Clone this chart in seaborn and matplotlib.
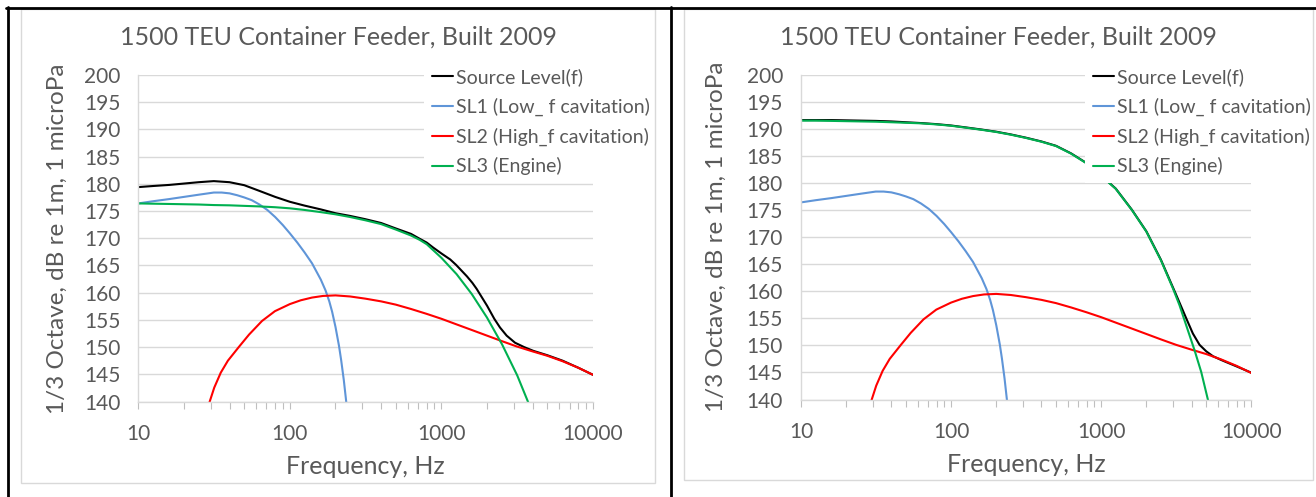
import numpy as np
import pandas as pd
import matplotlib
matplotlib.use("Agg")
import matplotlib.pyplot as plt
import seaborn as sns
from matplotlib.lines import Line2D
from matplotlib.patches import Rectangle
from matplotlib.ticker import LogLocator, FixedLocator, NullFormatter, FuncFormatter

# ---------------- data ----------------
title = "1500 TEU Container Feeder, Built 2009"
xlabel = "Frequency, Hz"
ylabel = "1/3 Octave, dB re 1m, 1 microPa"
series_names = ["Source Level(f)", "SL1 (Low_ f cavitation)",
                "SL2 (High_f cavitation)", "SL3 (Engine)"]

# left chart: total source level
sl_left_freq = [10, 12.5, 16, 20, 25, 31.5, 40, 50, 63, 80, 100, 125, 160,
                200, 250, 315, 400, 500, 630, 719, 800, 881, 1000, 1143, 1250,
                1473, 1600, 1707, 2000, 2232, 2434, 2694, 3059, 3510, 4046,
                5000, 6300, 8000, 10000]
sl_left = [179.4, 179.6, 179.8, 180.05, 180.3, 180.5, 180.3, 179.75, 178.7,
           177.6, 176.7, 176.0, 175.3, 174.6, 174.1, 173.5, 172.8, 171.8,
           170.8, 169.9, 169.2, 168.3, 167.2, 166.1, 165.1, 163.0, 161.8,
           160.7, 157.6, 155.2, 153.6, 152.1, 150.8, 150.0, 149.3, 148.5,
           147.5, 146.2, 144.9]
# left chart: engine
engine_left_freq = [10, 12.5, 16, 20, 25, 31.5, 40, 50, 63, 80, 100, 125, 160,
                    200, 250, 315, 400, 500, 630, 719, 800, 1000, 1259, 1585,
                    1995, 2512, 3162, 3656, 4000]
engine_left = [176.4, 176.35, 176.3, 176.25, 176.2, 176.1, 176.05, 175.95,
               175.85, 175.7, 175.5, 175.2, 174.8, 174.4, 173.9, 173.3, 172.6,
               171.6, 170.5, 169.7, 168.9, 166.4, 163.4, 159.75, 155.45,
               150.5, 144.8, 140.5, 137.8]

# right chart: total source level
sl_right_freq = [10, 12.5, 16, 20, 25, 31.5, 40, 50, 63, 80, 100, 125, 160,
                 200, 250, 315, 400, 500, 630, 800, 1000, 1250, 1600, 2000,
                 2500, 3150, 3684, 4078, 4519, 5008, 5549, 6300, 6814, 8000,
                 10000]
sl_right = [191.6, 191.6, 191.6, 191.55, 191.5, 191.45, 191.35, 191.2, 191.05,
            190.85, 190.6, 190.25, 189.85, 189.45, 188.95, 188.35, 187.65,
            186.85, 185.45, 183.65, 181.35, 178.95, 175.05, 171.05, 165.8,
            159.4, 155.0, 152.2, 150.1, 148.9, 148.0, 147.3, 146.9, 146.1,
            144.95]
# right chart: engine
engine_right_freq = [10, 12.5, 16, 20, 25, 31.5, 40, 50, 63, 80, 100, 125, 160,
                     200, 250, 315, 400, 500, 630, 800, 1000, 1250, 1600, 2000,
                     2500, 3007, 3325, 3684, 4187, 4637, 5136, 5600]
engine_right = [191.5, 191.5, 191.45, 191.4, 191.35, 191.3, 191.2, 191.1,
                191.0, 190.8, 190.55, 190.2, 189.8, 189.4, 188.9, 188.3, 187.6,
                186.8, 185.4, 183.6, 181.3, 178.9, 175.0, 171.0, 165.7, 160.5,
                157.4, 153.7, 149.1, 145.1, 140.0, 135.0]

# shared components (same in both charts)
lowf_freq = [10, 12.5, 16, 20, 25, 31.5, 35.5, 40, 45, 50, 56, 63, 71, 80, 90,
             100, 112, 125, 140, 160, 172, 182, 190, 200, 211, 218, 227, 235,
             245]
lowf_cav = [176.4, 176.8, 177.2, 177.6, 178.0, 178.4, 178.4, 178.25, 177.9,
            177.5, 177.0, 176.2, 175.2, 173.9, 172.4, 170.9, 169.2, 167.4,
            165.4, 162.4, 160.4, 158.4, 156.5, 153.7, 150.2, 147.6, 143.9,
            140.15, 134.9]
highf_freq = [25, 29.6, 31.7, 35, 39, 46, 53.8, 65.5, 79.7, 100, 118, 140,
              165.6, 200, 250, 315, 400, 500, 630, 800, 1000, 1250, 1600,
              2000, 2500, 3150, 4000, 5000, 6300, 8000, 10000]
highf_cav = [133.0, 140.0, 142.55, 145.3, 147.5, 150.0, 152.3, 154.8, 156.6,
             157.9, 158.6, 159.1, 159.4, 159.5, 159.3, 158.9, 158.4, 157.8,
             157.0, 156.1, 155.2, 154.2, 153.1, 152.1, 151.1, 150.1, 149.2,
             148.4, 147.4, 146.2, 144.9]

yticks = list(range(140, 201, 5))
xticks_major = [10, 100, 1000, 10000]

colors = ["#000000", "#5F95D8", "#FF0000", "#00B050"]
TEXT = "#595959"
GRID = "#D9D9D9"

# ---------------- style ----------------
sns.set_theme(style="white")
plt.rcParams["font.family"] = ["Lato", "DejaVu Sans"]

W, H = 1316, 497
fig = plt.figure(figsize=(W / 100, H / 100), dpi=100)
fig.patch.set_facecolor("white")


def fx(x):
    return x / W


def fy(y):
    return 1 - y / H


LW = 1.5


def make_panel(rect, bl_f, black, eng_f, eng, title_x, legend_left, ylab_x,
               xlab_y):
    ax = fig.add_axes(rect)
    sns.lineplot(x=bl_f, y=black, color=colors[0], lw=LW, ax=ax,
                 label=series_names[0])
    sns.lineplot(x=lowf_freq, y=lowf_cav, color=colors[1], lw=LW, ax=ax,
                 label=series_names[1])
    sns.lineplot(x=highf_freq, y=highf_cav, color=colors[2], lw=LW, ax=ax,
                 label=series_names[2])
    sns.lineplot(x=eng_f, y=eng, color=colors[3], lw=LW, ax=ax,
                 label=series_names[3])
    ax.set_xscale("log")
    ax.set_xlim(10, 10000)
    ax.set_ylim(140, 200)
    ax.set_yticks(yticks)
    ax.xaxis.set_major_locator(FixedLocator(xticks_major))
    ax.xaxis.set_major_formatter(FuncFormatter(lambda v, p: f"{int(round(v))}"))
    ax.xaxis.set_minor_locator(LogLocator(base=10, subs=np.arange(2, 10)))
    ax.xaxis.set_minor_formatter(NullFormatter())
    ax.set_axisbelow(True)
    ax.yaxis.grid(True, color=GRID, lw=1.0)
    ax.xaxis.grid(False)
    for s in ["top", "right"]:
        ax.spines[s].set_visible(False)
    for s in ["left", "bottom"]:
        ax.spines[s].set_color(GRID)
        ax.spines[s].set_linewidth(1.0)
    ax.tick_params(axis="x", which="both", direction="out", length=5,
                   width=0.8, color="#BFBFBF", labelsize=15,
                   labelcolor=TEXT, pad=11, bottom=True)
    ax.tick_params(axis="y", length=0, labelsize=15, labelcolor=TEXT, pad=13)
    ax.set_xlabel(xlabel, fontsize=18, color=TEXT)
    ax.set_ylabel(ylabel, fontsize=17.5, color=TEXT)
    x0 = rect[0] * W
    w = rect[2] * W
    y_bot = (1 - rect[1]) * H
    h = rect[3] * H
    ax.yaxis.set_label_coords((ylab_x - x0) / w, 0.5)
    ax.yaxis.label.set_va("center")
    ax.xaxis.set_label_coords(0.5, (y_bot - xlab_y) / h)
    ax.xaxis.label.set_va("center")
    fig.text(fx(title_x), fy(37), title, fontsize=18, color=TEXT,
             ha="center", va="center")
    leg = ax.legend(loc="upper left",
                    bbox_to_anchor=(fx(legend_left), fy(60)),
                    bbox_transform=fig.transFigure,
                    fontsize=14, labelcolor=TEXT, frameon=True,
                    facecolor="white", edgecolor="none", framealpha=1.0,
                    fancybox=False, handlelength=1.08, handletextpad=0.15,
                    labelspacing=0.6, borderpad=0.4, borderaxespad=0)
    for line in leg.get_lines():
        line.set_linewidth(LW)
    return ax


ax1 = make_panel([fx(138.3), fy(401.5), fx(593.0) - fx(138.3),
                  (401.5 - 75.0) / H],
                 sl_left_freq, sl_left, engine_left_freq, engine_left,
                 title_x=338, legend_left=424, ylab_x=57, xlab_y=466)
ax2 = make_panel([fx(801.0), fy(399.5), fx(1251.3) - fx(801.0),
                  (399.5 - 74.6) / H],
                 sl_right_freq, sl_right, engine_right_freq, engine_right,
                 title_x=998, legend_left=1085, ylab_x=716, xlab_y=464)

# chart-area borders (light gray) and table lines (black)
fig.add_artist(Rectangle((fx(21), fy(483)), fx(655) - fx(21),
                         (483 - 9) / H, transform=fig.transFigure,
                         fill=False, edgecolor=GRID, lw=1.0))
fig.add_artist(Rectangle((fx(684), fy(480)), fx(1313) - fx(684),
                         (480 - 9) / H, transform=fig.transFigure,
                         fill=False, edgecolor=GRID, lw=1.0))
for (xa, ya, xb, yb) in [(6, 7.5, 1316, 7.5), (7.5, 7, 7.5, 497),
                         (671, 7, 671, 497)]:
    fig.add_artist(Line2D([fx(xa), fx(xb)], [fy(ya), fy(yb)],
                          transform=fig.transFigure, color="black", lw=2.0))

fig.savefig("out.png", dpi=100, facecolor="white")
